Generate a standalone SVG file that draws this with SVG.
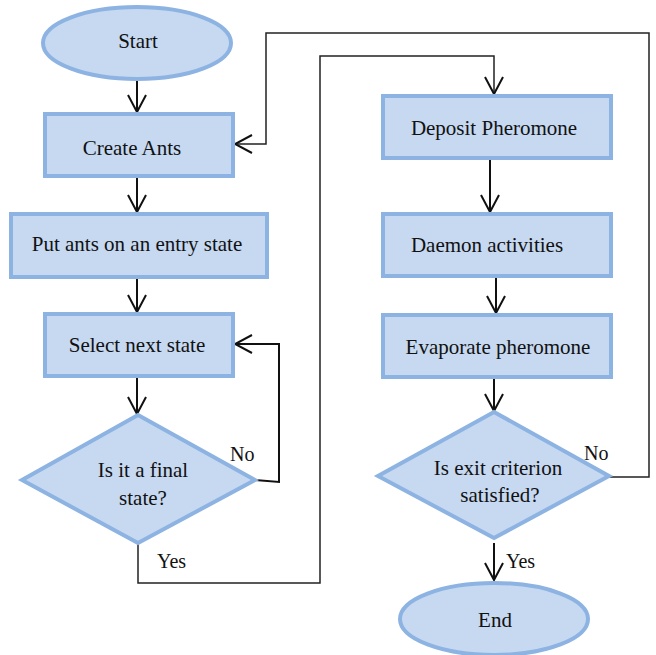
<svg xmlns="http://www.w3.org/2000/svg" width="656" height="655" viewBox="0 0 656 655">
<style>
.n{fill:#c6d9f1;stroke:#8db3e2;stroke-width:4}
.t{font-size:21px;fill:#111;text-anchor:middle}
.l{font-size:20px;fill:#111}
.c{fill:none;stroke:#111;stroke-width:2}
.c2{fill:none;stroke:#222;stroke-width:1.5}
</style>
<defs>
<marker id="a" viewBox="-19 -11 21 22" refX="0" refY="0" markerWidth="21" markerHeight="22" orient="auto" markerUnits="userSpaceOnUse">
<path d="M-17,-9 L0,0 L-17,9" fill="none" stroke="#111" stroke-width="2"/>
</marker>
</defs>
<rect width="656" height="655" fill="#fff"/>
<g id="connectors">
<line class="c" x1="137" y1="80" x2="137" y2="112" marker-end="url(#a)"/>
<line class="c" x1="137" y1="176" x2="137" y2="212" marker-end="url(#a)"/>
<line class="c" x1="137" y1="277" x2="137" y2="312" marker-end="url(#a)"/>
<line class="c" x1="137" y1="376" x2="137" y2="414" marker-end="url(#a)"/>
<polyline class="c" points="255,480 279,482 279,344 235,344" marker-end="url(#a)"/>
<polyline class="c2" points="138,543 138,583 320,583 320,56 494,56 494,94" marker-end="url(#a)"/>
<line class="c" x1="490" y1="158" x2="490" y2="212" marker-end="url(#a)"/>
<line class="c" x1="496" y1="276" x2="496" y2="313" marker-end="url(#a)"/>
<line class="c" x1="494" y1="377" x2="494" y2="411" marker-end="url(#a)"/>
<polyline class="c2" points="609,477 649,477 649,33 266,33 266,144 235,144" marker-end="url(#a)"/>
<line class="c" x1="494" y1="543" x2="494" y2="580" marker-end="url(#a)"/>
</g>
<g font-family="Liberation Serif, Times New Roman, serif">
<g id="start">
<ellipse class="n" cx="137" cy="43" rx="94" ry="36"/>
<text class="t" x="138" y="48">Start</text>
</g>
<g id="create-ants">
<rect class="n" x="45" y="114" width="188" height="62"/>
<text class="t" x="132" y="155">Create Ants</text>
</g>
<g id="put-ants">
<rect class="n" x="11" y="214" width="256" height="63"/>
<text class="t" x="137" y="251">Put ants on an entry state</text>
</g>
<g id="select-next">
<rect class="n" x="45" y="314" width="188" height="62"/>
<text class="t" x="137" y="352">Select next state</text>
</g>
<g id="final-state">
<polygon class="n" points="138,415 255,480 138,543 22,480"/>
<text class="t" x="143" y="477">Is it a final</text>
<text class="t" x="143" y="505">state?</text>
</g>
<g id="deposit">
<rect class="n" x="383" y="96" width="228" height="62"/>
<text class="t" x="494" y="135">Deposit Pheromone</text>
</g>
<g id="daemon">
<rect class="n" x="383" y="214" width="228" height="62"/>
<text class="t" x="487" y="252">Daemon activities</text>
</g>
<g id="evaporate">
<rect class="n" x="383" y="315" width="228" height="62"/>
<text class="t" x="498" y="354">Evaporate pheromone</text>
</g>
<g id="exit-criterion">
<polygon class="n" points="494,412 609,476 494,538 378,476"/>
<text class="t" x="498" y="475">Is exit criterion</text>
<text class="t" x="500" y="502">satisfied?</text>
</g>
<g id="end">
<ellipse class="n" cx="494" cy="619" rx="94" ry="36"/>
<text class="t" x="495" y="627">End</text>
</g>
<g id="labels">
<text class="l" x="230" y="461">No</text>
<text class="l" x="584" y="460">No</text>
<text class="l" x="157" y="568">Yes</text>
<text class="l" x="506" y="568">Yes</text>
</g>
</g>
</svg>
